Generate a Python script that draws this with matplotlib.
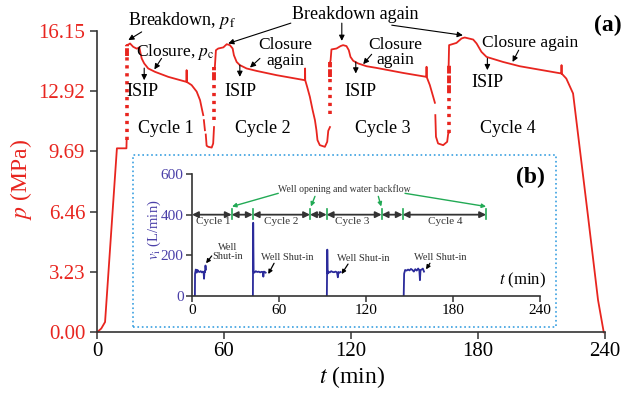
import numpy as np
import matplotlib.pyplot as plt
from matplotlib.patches import Rectangle

plt.rcParams['font.family'] = 'Liberation Serif'
plt.rcParams['mathtext.fontset'] = 'stix'

vermelho = '#e8251f'
azul = '#2b2b9b'
verde = '#22aa55'
cinza = '#333333'

# pressao (MPa) x tempo (min), por trechos
t_inicio = [0, 2.0, 3.8, 9.4, 13.9, 14.0]
p_inicio = [0, 0.2, 0.55, 9.86, 9.86, 10.3]

t_ciclo1 = [14.1, 14.8, 15.6, 17.1, 18.8, 20.0, 20.6, 21.1, 22.3, 24.2, 27.4, 33.7, 42.3, 42.35, 42.4,
            44.7, 47.1, 48.7, 49.7, 50.2, np.nan, 50.5, 51.0, np.nan, 51.4, 51.8, 52.6, 54.2, 54.9, 55.3]
p_ciclo1 = [15.4, 15.42, 15.48, 15.3, 15.2, 15.27, 14.94, 14.68, 14.41, 14.14, 13.96, 13.69, 13.42, 14.05, 13.42,
            13.25, 12.9, 12.44, 11.9, 11.64, np.nan, 11.37, 10.83, np.nan, 10.6, 10.0, 9.94, 9.9, 10.12, 11.0]

t_ciclo2 = [55.5, 55.7, 56.2, 57.3, 59.7, 61.3, 62.8, 64.1, 64.7, 66.0, 67.5, 70.7, 75.4, 84.9, 98.3, 98.35, 98.4,
            99.3, 100.6, 101.9, 103.0, 103.7, 104.2, 105.3, 107.7, 108.8, 109.3, 110.1]
p_ciclo2 = [14.16, 14.23, 15.12, 15.21, 15.27, 15.44, 15.39, 15.21, 14.85, 14.49, 14.32, 14.14, 14.01, 13.78, 13.51, 14.14, 13.51,
            13.16, 12.62, 11.91, 11.37, 10.83, 10.3, 10.03, 9.94, 10.21, 10.8, 11.0]

t_ciclo3 = [110.2, 110.4, 110.8, 113.2, 115.1, 116.3, 117.9, 119.0, 119.8, 121.1, 123.4, 127.4, 132.1, 144.7, 155.7, 155.75, 155.8,
            157.3, 158.9, 159.7, np.nan, 159.9, 160.2, 161.2, 163.6, 165.5, 166.0, 166.4]
p_ciclo3 = [14.5, 14.58, 15.16, 15.21, 15.34, 15.39, 15.34, 15.12, 14.76, 14.55, 14.41, 14.26, 14.17, 13.9, 13.69, 14.23, 13.69,
            13.25, 12.62, 12.3, np.nan, 11.64, 10.48, 10.12, 10.03, 10.21, 10.66, 10.7]

t_ciclo4 = [166.2, 166.4, 169.9, 172.3, 173.8, 177.8, 179.4, 181.7, 184.1, 191.9, 199.8, 219.5, 219.55, 219.6,
            221.8, 225.0, 232.1, 236.8, 239.5]
p_ciclo4 = [14.32, 15.39, 15.51, 15.75, 15.8, 15.69, 15.48, 15.03, 14.76, 14.49, 14.26, 13.87, 14.32, 13.87,
            13.6, 12.8, 6.19, 1.73, 0.0]

# subidas rapidas registradas como pontos isolados
t_pontos = [14.0, 55.3, 110.1, 166.4]
p_pontos_ini = [10.3, 11.4, 11.7, 10.7]
p_denso_ini = [14.8, 13.5, 13.7, 12.8]
p_denso_fim = [15.4, 14.2, 14.5, 14.3]

p_ticks = [0.00, 3.23, 6.46, 9.69, 12.92, 16.15]
t_ticks = [0, 60, 120, 180, 240]

# vazao de injecao (L/min), grafico (b)
t_vazao1 = [2.0, 2.1, 2.6, 3.2, 3.8, 4.5, 5.2, 6.0, 6.8, 7.5, 8.0, 8.3, 8.6, 9.0, 9.3, 9.6]
v_vazao1 = [0, 110, 130, 115, 128, 120, 118, 122, 116, 120, 117, 85, 120, 118, 150, 130]
t_vazao2 = [42.0, 42.2, 42.5, 43, 44, 45, 46, 47, 48, 48.8, 49.2, 49.6, 50.2, 50.8]
v_vazao2 = [0, 360, 120, 115, 122, 118, 120, 116, 119, 118, 95, 120, 118, 115]
t_vazao3 = [93.0, 93.3, 93.6, 94, 95, 96, 97, 98, 99, 100, 100.6, 101.0, 101.6, 102.5]
v_vazao3 = [0, 228, 110, 120, 116, 122, 118, 117, 120, 116, 92, 118, 115, 118]
t_vazao4 = [146.0, 146.3, 147, 148, 149, 150, 151, 152, 153, 154, 155, 156, 156.8, 157.2, 157.6, 158.4, 159.2, 160.0]
v_vazao4 = [0, 110, 128, 125, 130, 126, 133, 128, 120, 132, 125, 135, 125, 78, 128, 130, 135, 120]

limites_ciclos = [0, 27.4, 41.9, 81.4, 92.9, 130.8, 145.3, 202.8]
nomes_ciclos = ['Cycle 1', 'Cycle 2', 'Cycle 3', 'Cycle 4']
t_nomes_ciclos = [14.5, 61.8, 110.8, 174.5]

fig = plt.figure(figsize=(6.3, 3.93), dpi=100)
ax = fig.add_axes([0.154, 0.1545, 0.806, 0.7667])

for t, p in [(t_inicio, p_inicio), (t_ciclo1, p_ciclo1), (t_ciclo2, p_ciclo2),
             (t_ciclo3, p_ciclo3), (t_ciclo4, p_ciclo4)]:
    ax.plot(t, p, color=vermelho, lw=1.3, clip_on=False)

for t, a, b, c in zip(t_pontos, p_pontos_ini, p_denso_ini, p_denso_fim):
    ax.plot([t, t], [a, b], color=vermelho, lw=2.6, ls=(0, (0.9, 1.3)), solid_capstyle='butt')
    ax.plot([t, t], [b, c], color=vermelho, lw=2.8, ls=(0, (2.0, 0.5)))

ax.set_xlim(0, 240)
ax.set_ylim(0, 16.15)
for lado in ['top', 'right']:
    ax.spines[lado].set_visible(False)
for lado in ['left', 'bottom']:
    ax.spines[lado].set_color(cinza)
    ax.spines[lado].set_linewidth(1.2)
ax.set_yticks(p_ticks)
ax.set_yticklabels(['%.2f' % v for v in p_ticks], color=vermelho, fontsize=15)
ax.set_xticks(t_ticks)
ax.set_xticklabels([str(v) for v in t_ticks], fontsize=15)
ax.tick_params(axis='both', direction='out', length=5, width=1.1, color=cinza)
ax.tick_params(axis='x', pad=2)

fig.text(21 / 630, 1 - 180 / 393, r'$p$ (MPa)', color=vermelho, fontsize=17, rotation=90, ha='center', va='center')
fig.text(352 / 630, 1 - 377 / 393, r'$t$ (min)', fontsize=17, ha='center', va='center')
fig.text(608 / 630, 1 - 25 / 393, '(a)', fontsize=17, fontweight='bold', ha='center', va='center')

seta = dict(arrowstyle='-|>', color='k', lw=0.8, mutation_scale=8, shrinkA=0, shrinkB=0)
ax.annotate('', xy=(14.8, 15.66), xytext=(21.1, 16.1), arrowprops=seta, annotation_clip=False)
ax.text(40.0, 16.73, r'Breakdown, $p_\mathrm{f}$', fontsize=13, ha='center', va='center')
ax.text(121.9, 17.05, 'Breakdown again', fontsize=13, ha='center', va='center')
ax.annotate('', xy=(62.0, 15.48), xytext=(91.6, 16.57), arrowprops=seta, annotation_clip=False)
ax.annotate('', xy=(115.7, 15.62), xytext=(115.7, 16.57), arrowprops=seta, annotation_clip=False)
ax.annotate('', xy=(172.9, 15.92), xytext=(139.3, 16.46), arrowprops=seta, annotation_clip=False)

ax.text(37.0, 15.03, r'Closure, $p_\mathrm{c}$', fontsize=12.5, ha='center', va='center')
ax.annotate('', xy=(27.1, 14.09), xytext=(30.5, 14.68), arrowprops=seta)
ax.text(88.8, 14.96, 'Closure\nagain', fontsize=12.5, ha='center', va='center', linespacing=0.95)
ax.annotate('', xy=(72.3, 14.19), xytext=(77.0, 14.68), arrowprops=seta)
ax.text(140.8, 15.01, 'Closure\nagain', fontsize=12.5, ha='center', va='center', linespacing=0.95)
ax.annotate('', xy=(125.8, 14.37), xytext=(129.8, 14.9), arrowprops=seta)
ax.text(204.5, 15.51, 'Closure again', fontsize=12.5, ha='center', va='center')
ax.annotate('', xy=(196.4, 14.49), xytext=(199.3, 15.12), arrowprops=seta)

t_isip = [21.7, 68.0, 124.7, 184.5]
p_isip = [12.89, 12.89, 12.89, 13.41]
t_seta_isip = [22.3, 67.5, 122.3, 184.5]
p_seta_isip = [(14.16, 13.51), (14.32, 13.69), (14.49, 13.87), (14.68, 14.05)]
for t, p, ts, (a, b) in zip(t_isip, p_isip, t_seta_isip, p_seta_isip):
    ax.text(t, p, 'ISIP', fontsize=13, ha='center', va='center')
    ax.annotate('', xy=(ts, b), xytext=(ts, a), arrowprops=seta)

for nome, t in zip(nomes_ciclos, [32.6, 78.4, 135.1, 194.1]):
    ax.text(t, 10.94, nome, fontsize=13, ha='center', va='center')

# moldura pontilhada do grafico (b)
fig.patches.append(Rectangle((133 / 630, 66 / 393), 423 / 630, 172 / 393, transform=fig.transFigure,
                             fill=False, ls=':', lw=1.2, color='#3aa0e0'))

ax2 = fig.add_axes([192 / 630, 97 / 393, 348 / 630, 122 / 393])
ax2.patch.set_alpha(0)
for t, v in [(t_vazao1, v_vazao1), (t_vazao2, v_vazao2), (t_vazao3, v_vazao3), (t_vazao4, v_vazao4)]:
    ax2.plot(t, v, color=azul, lw=1.3)
ax2.set_xlim(0, 240)
ax2.set_ylim(0, 600)
for lado in ['top', 'right']:
    ax2.spines[lado].set_visible(False)
for lado in ['left', 'bottom']:
    ax2.spines[lado].set_color(cinza)
    ax2.spines[lado].set_linewidth(1.2)
ax2.set_xticks(t_ticks)
ax2.set_xticklabels([str(v) for v in t_ticks], fontsize=11)
ax2.set_yticks([0, 200, 400, 600])
ax2.set_yticklabels(['0', '200', '400', '600'], fontsize=11, color='#4a3fa8')
ax2.tick_params(axis='both', direction='out', length=4, width=1.1, color=cinza, pad=2)

fig.text(154 / 630, 1 - 230 / 393, r'$v_\mathrm{i}$ (L/min)', color='#4a3fa8', fontsize=10.5, rotation=90,
         ha='center', va='center')
ax2.text(244, 79, r'$t$ (min)', fontsize=12, ha='right', va='center')
fig.text(530 / 630, 1 - 177 / 393, '(b)', fontsize=17, fontweight='bold', ha='center', va='center')

dupla = dict(arrowstyle='<|-|>', color=cinza, lw=1.3, mutation_scale=9, shrinkA=0, shrinkB=0)
for a, b in zip(limites_ciclos[:-1], limites_ciclos[1:]):
    ax2.annotate('', xy=(b, 400), xytext=(a, 400), arrowprops=dupla)
for b in limites_ciclos[1:]:
    ax2.plot([b, b], [378, 428], color=verde, lw=1.2)
for nome, t in zip(nomes_ciclos, t_nomes_ciclos):
    ax2.text(t, 368, nome, fontsize=8, ha='center', va='center', color=cinza)

ax2.text(104.8, 526, 'Well opening and water backflow', fontsize=7, ha='center', va='center', color=cinza)
seta_verde = dict(arrowstyle='-|>', color=verde, lw=1.0, mutation_scale=6, shrinkA=0, shrinkB=0)
for (x0, y0), (x1, y1) in [((59.5, 505), (27.6, 440)), ((84.8, 490), (82.0, 440)),
                           ((128.5, 490), (130.5, 440)), ((146.9, 505), (202.8, 440))]:
    ax2.annotate('', xy=(x1, y1), xytext=(x0, y0), arrowprops=seta_verde)

seta_preta = dict(arrowstyle='-|>', color='k', lw=0.9, mutation_scale=6, shrinkA=0, shrinkB=0)
ax2.text(24.8, 216, 'Well\nShut-in', fontsize=7.5, ha='center', va='center', color=cinza, linespacing=1.1)
ax2.annotate('', xy=(9.7, 161), xytext=(13.6, 197), arrowprops=seta_preta)
ax2.text(66.0, 188, 'Well Shut-in', fontsize=7.5, ha='center', va='center', color=cinza)
ax2.annotate('', xy=(52.6, 108), xytext=(56.6, 161), arrowprops=seta_preta)
ax2.text(118.2, 182, 'Well Shut-in', fontsize=7.5, ha='center', va='center', color=cinza)
ax2.annotate('', xy=(103.2, 108), xytext=(107.6, 157), arrowprops=seta_preta)
ax2.text(171.0, 190, 'Well Shut-in', fontsize=7.5, ha='center', va='center', color=cinza)
ax2.annotate('', xy=(161.4, 131), xytext=(164.1, 161), arrowprops=seta_preta)

fig.savefig('out.png', dpi=100)
